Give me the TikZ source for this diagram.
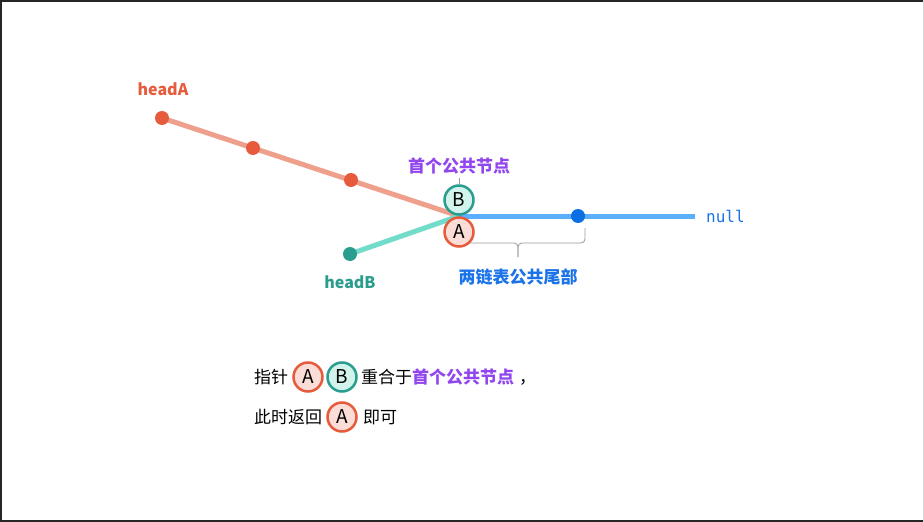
\documentclass[tikz,border=0pt]{standalone}
\usepackage{fontspec}
\setmainfont{Noto Sans CJK SC}
\newfontfamily\monofont{DejaVu Sans Mono}
\usepackage{xcolor}
\usetikzlibrary{backgrounds}
\definecolor{rouge}{HTML}{E55B3C}
\definecolor{rougeligne}{HTML}{EFA08C}
\definecolor{rougeclair}{HTML}{FADDD6}
\definecolor{vert}{HTML}{2A9D8F}
\definecolor{vertligne}{HTML}{72DCCB}
\definecolor{vertclair}{HTML}{D2F2EC}
\definecolor{bleu}{HTML}{1A73E8}
\definecolor{bleuligne}{HTML}{5AAFFF}
\definecolor{bleupoint}{HTML}{0B6FE3}
\definecolor{violet}{HTML}{9146EE}
\begin{document}
\begin{tikzpicture}[x=1pt, y=-1pt, font=\fontsize{17}{20}\selectfont,
  dot/.style={circle, inner sep=0pt, minimum size=14pt},
  ptr/.style={circle, line width=2.5pt, inner sep=0pt, minimum size=29pt, font=\fontsize{19}{20}\selectfont},
  ptrA/.style={ptr, draw=rouge, fill=rougeclair},
  ptrB/.style={ptr, draw=vert, fill=vertclair},
  txt/.style={anchor=west, inner sep=0pt},
  titre/.style={font=\fontsize{17}{20}\selectfont\bfseries},
  lien/.style={line width=5pt},
  accolade/.style={black!40, line width=0.8pt, rounded corners=4pt}]
\useasboundingbox (0,0) rectangle (924,522);
\draw[line width=2pt, black!85] (924,1) -- (1,1) -- (1,521) -- (924,521);
\draw[black!15] (923,0) -- (923,522);
% the two lists
\node[dot, fill=rouge] (a1) at (162,118) {};
\node[dot, fill=rouge] (a2) at (253,148) {};
\node[dot, fill=rouge] (a3) at (351,180) {};
\node[dot, fill=vert] (b1) at (350,254) {};
\node[dot, fill=bleupoint] (c1) at (578,216) {};
\coordinate (j) at (459,216);
\coordinate (nullEnd) at (695,216);
\begin{pgfonlayer}{background}
\fill[white] (2,2) rectangle (922,520);
\draw[lien, rougeligne] (a1.center) -- (j);
\draw[lien, vertligne] (b1.center) -- (j);
\draw[lien, bleuligne] (j) -- (nullEnd);
\end{pgfonlayer}
% labels
\node[rouge, titre, font=\fontsize{16}{19}\selectfont\bfseries] (headA) at (163,89) {headA};
\node[vert, titre, font=\fontsize{16}{19}\selectfont\bfseries] (headB) at (350,282) {headB};
\node[txt, bleu, font=\fontsize{16}{19}\monofont] (null) at (706,216) {null};
% brace
\coordinate (braceL) at (451,228);
\coordinate (braceR) at (585,228);
\coordinate (braceM) at (518,243);
\coordinate (braceTip) at (518,257);
\draw[accolade] (braceL) |- (braceM) -- (braceTip);
\draw[accolade] (braceR) |- (braceM) -- (braceTip);
\node[bleu, titre] (tail) at (518,277) {两链表公共尾部};
% pointers
\node[ptrA] (pA) at (459,232) {A};
\node[ptrB] (pB) at (459,200) {B};
\node[violet, titre] (first) at (459,166) {首个公共节点};
\draw[black!40, line width=0.8pt] (first) -- (pB);
% text
\node[txt] (t1) at (254,377) {指针};
\node[ptrA] (tA) at (308,377) {A};
\node[ptrB] (tB) at (342,377) {B};
\node[txt] (t2) at (361,377) {重合于\textcolor{violet}{\bfseries 首个公共节点}\hspace{5pt}，};
\node[txt] (t3) at (254,417) {此时返回};
\node[ptrA] (tA2) at (342,417) {A};
\node[txt] (t4) at (363,417) {即可};
\end{tikzpicture}
\end{document}
